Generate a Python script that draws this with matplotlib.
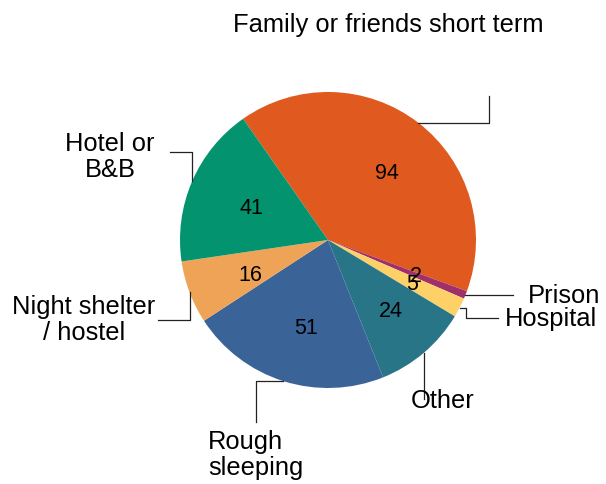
import numpy as np
import matplotlib.pyplot as plt
from matplotlib.transforms import ScaledTranslation

labels = ["Family or friends short term", "Prison", "Hospital", "Other",
          "Rough\nsleeping", "Night shelter\n/ hostel", "Hotel or\nB&B"]
values = [94, 2, 5, 24, 51, 16, 41]
colors = ["#E05A1F", "#A0306A", "#FDD168", "#287587", "#3A6497", "#EFA356", "#03936E"]

plt.rcParams['font.family'] = ['Liberation Sans', 'DejaVu Sans']

fig = plt.figure(figsize=(6.06, 4.84), dpi=100)
ax = fig.add_axes([0, 0, 1, 1])

# pixel helpers: pie centre at (328, 240), radius 148 px
R = 148.0
cx, cy = 328, 240


def px(x, y):
    return (x - cx) / R, (cy - y) / R


total = sum(values)
wedges, _, autotexts = ax.pie(values, colors=colors, startangle=125, counterclock=False,
                              radius=1, autopct=lambda p: f"{p * total / 100:.0f}",
                              pctdistance=0.6, wedgeprops=dict(linewidth=0),
                              textprops=dict(fontsize=15.5, color="black"))
# numbers sit a little right/below the default spot in the reference
shift = ScaledTranslation(5 / 100, -4 / 100, fig.dpi_scale_trans)
for t in autotexts:
    t.set_transform(t.get_transform() + shift)

# leader line elbows (pixel moves from the wedge edge) and label placement
moves = [[(71, 0), (0, -27)],
         [(48, 0)],
         [(6, 0), (0, 10), (32, 0)],
         [(0, 46)],
         [(-27, 0), (0, 41)],
         [(0, 28), (-32, 0)],
         [(0, -29), (-22, 0)]]
label_pos = [(388, 25, "center"), (528, 296, "left"), (505, 319, "left"),
             (443, 401, "center"), (208, 455, "left"), (84, 320, "center"),
             (110, 157, "center")]

for w, mv, (lx, ly, ha), lab in zip(wedges, moves, label_pos, labels):
    ang = np.deg2rad((w.theta1 + w.theta2) / 2)
    x0, y0 = cx + R * np.cos(ang), cy - R * np.sin(ang)
    xs, ys = [x0], [y0]
    for dx, dy in mv:
        xs.append(xs[-1] + dx)
        ys.append(ys[-1] + dy)
    pts = [px(a, b) for a, b in zip(xs, ys)]
    ax.plot([p[0] for p in pts], [p[1] for p in pts], color="#222222", lw=0.9)
    tx, ty = px(lx, ly)
    ax.text(tx, ty, lab, fontsize=18.4, ha=ha, va="center", multialignment=ha,
            linespacing=1.15)

ax.set_xlim(-cx / R, (606 - cx) / R)
ax.set_ylim(-(484 - cy) / R, cy / R)
ax.set_aspect("equal")
ax.axis("off")

plt.savefig("out.png", dpi=100)
